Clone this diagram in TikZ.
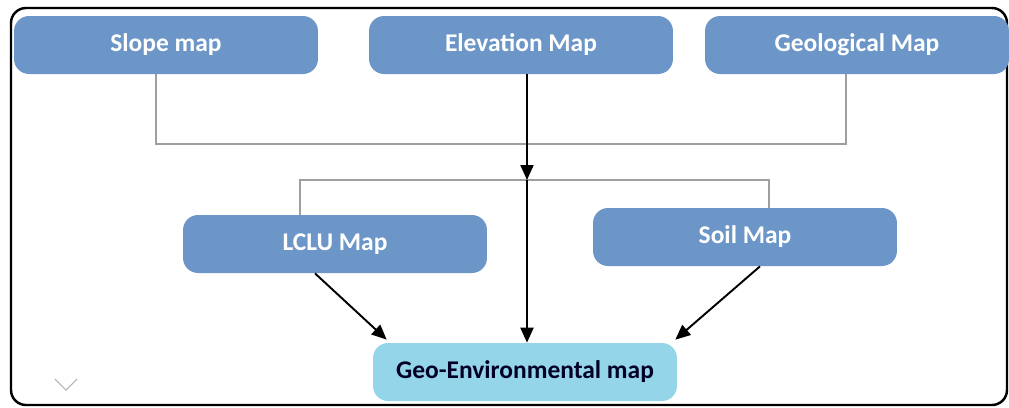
\documentclass[tikz,border=0pt]{standalone}
\usepackage{fontspec}
\setmainfont{Carlito}
\usetikzlibrary{calc,arrows.meta}

\definecolor{mapblue}{HTML}{6C96C8}
\definecolor{resblue}{HTML}{95D5EA}

\begin{document}
\begin{tikzpicture}[x=0.02cm,y=-0.02cm,
	mapbox/.style={fill=mapblue, rounded corners=0.3cm, minimum width=6.08cm, minimum height=1.16cm,
		text=white, font=\fontsize{14.5}{16}\selectfont\bfseries},
	resultbox/.style={mapbox, fill=resblue, text=black!85!blue},
	bus/.style={draw=gray!75, line width=0.9pt},
	flow/.style={draw=black, line width=1.1pt, -{Triangle[length=0.3cm,width=0.26cm]}}]

	\useasboundingbox (0,0) rectangle (1009,407);
	\draw[line width=1.4pt, rounded corners=0.3cm] (11,8) rectangle (1007,405);

	% input maps
	\node[mapbox] (slope) at (166,45) {Slope map};
	\node[mapbox] (elev) at (521,45) {Elevation Map};
	\node[mapbox] (geol) at (857,45) {Geological Map};

	\node[mapbox] (lclu) at (335,244) {LCLU Map};
	\node[mapbox] (soil) at (745,237) {Soil Map};

	\node[resultbox] (geoenv) at (525,372) {Geo-Environmental map};

	\coordinate (j1) at (527,144);
	\coordinate (j2) at (527,180);

	\draw[bus] ($(slope.south)+(-10,0)$) |- (j1) -| ($(geol.south)+(-11,0)$);
	\draw[bus] ($(lclu.north)+(-35,0)$) |- (j2) -| ($(soil.north)+(24,0)$);

	\draw[flow] ($(elev.south)+(6,0)$) -- (j2);
	\draw[flow] (j2) -- (j2 |- geoenv.north);
	\draw[flow] ($(lclu.south)+(-20,0)$) -- ($(geoenv.north west)+(14,-3)$);
	\draw[flow] ($(soil.south)+(15,0)$) -- ($(geoenv.north east)+(-2,-3)$);

	\draw[gray!60, line width=0.6pt] (55,379) -- (66,390) -- (77,379);

\end{tikzpicture}
\end{document}
